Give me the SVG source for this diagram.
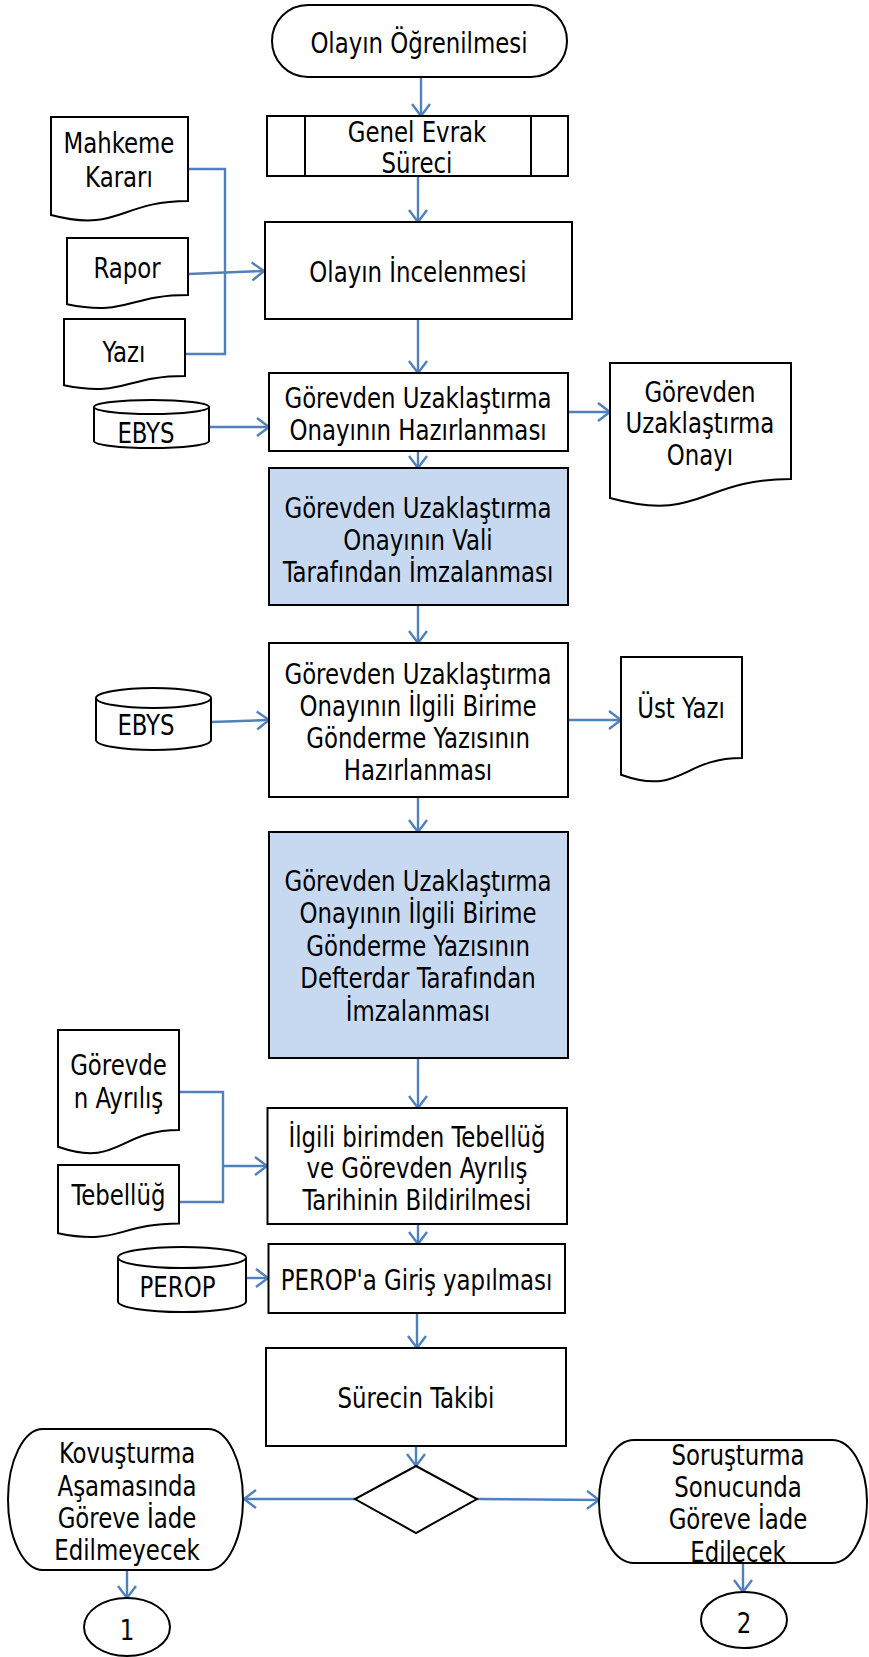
<svg xmlns="http://www.w3.org/2000/svg" width="869" height="1657" viewBox="0 0 869 1657">
<style>
.s{fill:#fff;stroke:#000;stroke-width:2}
.b{fill:#c6d9f1;stroke:#000;stroke-width:2}
.c{fill:none;stroke:#4f81bd;stroke-width:2.4}
.a{marker-end:url(#ah)}
text{font-family:"DejaVu Sans Condensed","DejaVu Sans",sans-serif;font-stretch:condensed;font-size:27.5px;fill:#000;text-anchor:middle}
</style>
<defs>
<marker id="ah" viewBox="0 0 14 20" refX="13" refY="10" markerWidth="14" markerHeight="20" markerUnits="userSpaceOnUse" orient="auto">
<path d="M1,1 L13,10 L1,19" fill="none" stroke="#4f81bd" stroke-width="2.4"/>
</marker>
</defs>

<g id="connectors">
<path class="c a" d="M421,77 V116"/>
<path class="c a" d="M418,176 V222"/>
<path class="c" d="M188,169 H225 V354 H185"/>
<path class="c a" d="M188,274 L264,271"/>
<path class="c a" d="M418,319 V373"/>
<path class="c a" d="M209,427 H269"/>
<path class="c a" d="M568,412 H610"/>
<path class="c a" d="M418,451 V468"/>
<path class="c a" d="M418,605 V643"/>
<path class="c a" d="M211,722 L269,720"/>
<path class="c a" d="M568,720 H621"/>
<path class="c a" d="M418,797 V832"/>
<path class="c a" d="M418,1058 V1108"/>
<path class="c" d="M179,1092 H223 V1202 H179"/>
<path class="c a" d="M223,1166 H267"/>
<path class="c a" d="M418,1224 V1244"/>
<path class="c a" d="M246,1278 H268"/>
<path class="c a" d="M417,1313 V1348"/>
<path class="c a" d="M416,1446 V1466"/>
<path class="c a" d="M355,1499 H244"/>
<path class="c a" d="M477,1499 L599,1500"/>
<path class="c a" d="M127,1570 V1598"/>
<path class="c a" d="M743,1563 V1592"/>
</g>

<g id="start">
<rect class="s" x="272" y="5" width="295" height="72" rx="36" ry="36"/>
<g transform="matrix(0.924 0 0 1 31.8 0)"><text x="419" y="53">Olayın Öğrenilmesi</text></g>
</g>

<g id="genel-evrak">
<rect class="s" x="267" y="116" width="301" height="60"/>
<path class="s" d="M305,116 V176 M531,116 V176"/>
<g transform="matrix(0.924 0 0 1 31.7 0)">
<text x="417" y="142">Genel Evrak</text>
<text x="417" y="173">Süreci</text>
</g>
</g>

<g id="olay-inceleme">
<rect class="s" x="265" y="222" width="307" height="97"/>
<g transform="matrix(0.924 0 0 1 31.8 0)"><text x="418" y="282">Olayın İncelenmesi</text></g>
</g>

<g id="doc-mahkeme">
<path class="s" d="M51,117 H188 V201 C119.5,201 119.5,233 51,215 Z"/>
<g transform="matrix(0.924 0 0 1 9.0 0)">
<text x="119" y="153">Mahkeme</text>
<text x="119" y="187">Kararı</text>
</g>
</g>

<g id="doc-rapor">
<path class="s" d="M67,238 H188 V295 C127.5,295 127.5,316.6 67,304.3 Z"/>
<g transform="matrix(0.924 0 0 1 9.7 0)"><text x="127" y="278">Rapor</text></g>
</g>

<g id="doc-yazi">
<path class="s" d="M64,319 H185 V376 C124.5,376 124.5,397.6 64,385.3 Z"/>
<g transform="matrix(0.924 0 0 1 9.4 0)"><text x="124" y="362">Yazı</text></g>
</g>

<g id="onay-hazirlama">
<rect class="s" x="269" y="373" width="299" height="78"/>
<g transform="matrix(0.924 0 0 1 31.8 0)">
<text x="418" y="408">Görevden Uzaklaştırma</text>
<text x="418" y="440">Onayının Hazırlanması</text>
</g>
</g>

<g id="ebys-1">
<path class="s" d="M94,407 A57.5,7 0 0 1 209,407 V441 A57.5,7 0 0 1 94,441 Z"/>
<path class="s" d="M94,407 A57.5,7 0 0 0 209,407"/>
<g transform="matrix(0.924 0 0 1 11.1 0)"><text x="146" y="443">EBYS</text></g>
</g>

<g id="doc-onay">
<path class="s" d="M610,363 H791 V479 C700.5,479 700.5,523 610,498 Z"/>
<g transform="matrix(0.924 0 0 1 53.2 0)">
<text x="700" y="402">Görevden</text>
<text x="700" y="433">Uzaklaştırma</text>
<text x="700" y="465">Onayı</text>
</g>
</g>

<g id="vali-imza">
<rect class="b" x="269" y="468" width="299" height="137"/>
<g transform="matrix(0.924 0 0 1 31.8 0)">
<text x="418" y="518">Görevden Uzaklaştırma</text>
<text x="418" y="550">Onayının Vali</text>
<text x="418" y="582">Tarafından İmzalanması</text>
</g>
</g>

<g id="yazi-hazirlama">
<rect class="s" x="269" y="643" width="299" height="154"/>
<g transform="matrix(0.924 0 0 1 31.8 0)">
<text x="418" y="684">Görevden Uzaklaştırma</text>
<text x="418" y="716">Onayının İlgili Birime</text>
<text x="418" y="748">Gönderme Yazısının</text>
<text x="418" y="780">Hazırlanması</text>
</g>
</g>

<g id="ebys-2">
<path class="s" d="M96,698 A57.5,10 0 0 1 211,698 V740 A57.5,10 0 0 1 96,740 Z"/>
<path class="s" d="M96,698 A57.5,10 0 0 0 211,698"/>
<g transform="matrix(0.924 0 0 1 11.1 0)"><text x="146" y="735">EBYS</text></g>
</g>

<g id="doc-ust-yazi">
<path class="s" d="M621,657 H742 V758 C681.5,758 681.5,796.5 621,774.7 Z"/>
<g transform="matrix(0.924 0 0 1 51.8 0)"><text x="681" y="718">Üst Yazı</text></g>
</g>

<g id="defterdar-imza">
<rect class="b" x="269" y="832" width="299" height="226"/>
<g transform="matrix(0.924 0 0 1 31.8 0)">
<text x="418" y="891">Görevden Uzaklaştırma</text>
<text x="418" y="923.5">Onayının İlgili Birime</text>
<text x="418" y="956">Gönderme Yazısının</text>
<text x="418" y="988.5">Defterdar Tarafından</text>
<text x="418" y="1021">İmzalanması</text>
</g>
</g>

<g id="doc-ayrilis">
<path class="s" d="M58,1030 H179 V1130 C118.5,1130 118.5,1168 58,1146.8 Z"/>
<g transform="matrix(0.924 0 0 1 9.0 0)">
<text x="118.5" y="1075">Görevde</text>
<text x="118.5" y="1108">n Ayrılış</text>
</g>
</g>

<g id="doc-tebellug">
<path class="s" d="M58,1165 H179 V1223.5 C118.5,1223.5 118.5,1245.8 58,1233.2 Z"/>
<g transform="matrix(0.924 0 0 1 9.0 0)"><text x="118.5" y="1205">Tebellüğ</text></g>
</g>

<g id="tebellug-bildirim">
<rect class="s" x="267.5" y="1108" width="299.5" height="116"/>
<g transform="matrix(0.924 0 0 1 31.7 0)">
<text x="417" y="1147">İlgili birimden Tebellüğ</text>
<text x="417" y="1178">ve Görevden Ayrılış</text>
<text x="417" y="1210">Tarihinin Bildirilmesi</text>
</g>
</g>

<g id="perop-db">
<path class="s" d="M118,1257.5 A64,10.5 0 0 1 246,1257.5 V1301.5 A64,10.5 0 0 1 118,1301.5 Z"/>
<path class="s" d="M118,1257.5 A64,10.5 0 0 0 246,1257.5"/>
<g transform="matrix(0.924 0 0 1 13.5 0)"><text x="177.5" y="1297">PEROP</text></g>
</g>

<g id="perop-giris">
<rect class="s" x="268.5" y="1244" width="296.5" height="69"/>
<g transform="matrix(0.924 0 0 1 31.7 0)"><text x="416.5" y="1290">PEROP'a Giriş yapılması</text></g>
</g>

<g id="surec-takip">
<rect class="s" x="266" y="1348" width="300" height="98"/>
<g transform="matrix(0.924 0 0 1 31.6 0)"><text x="416" y="1408">Sürecin Takibi</text></g>
</g>

<g id="karar">
<polygon class="s" points="416,1466 477,1499 416,1533 355,1499"/>
</g>

<g id="kovusturma">
<rect class="s" x="8" y="1429" width="235" height="141" rx="35" ry="70.5"/>
<g transform="matrix(0.924 0 0 1 9.7 0)">
<text x="127" y="1463">Kovuşturma</text>
<text x="127" y="1496">Aşamasında</text>
<text x="127" y="1528">Göreve İade</text>
<text x="127" y="1560">Edilmeyecek</text>
</g>
</g>

<g id="sorusturma">
<rect class="s" x="599" y="1440" width="268" height="123" rx="35" ry="61.5"/>
<g transform="matrix(0.924 0 0 1 56.1 0)">
<text x="738" y="1465">Soruşturma</text>
<text x="738" y="1497">Sonucunda</text>
<text x="738" y="1529">Göreve İade</text>
<text x="738" y="1562">Edilecek</text>
</g>
</g>

<g id="baglanti-1">
<ellipse class="s" cx="127" cy="1627" rx="43" ry="29"/>
<g transform="matrix(0.924 0 0 1 9.7 0)"><text x="127" y="1640">1</text></g>
</g>

<g id="baglanti-2">
<ellipse class="s" cx="744" cy="1620" rx="43" ry="28"/>
<g transform="matrix(0.924 0 0 1 56.5 0)"><text x="744" y="1633">2</text></g>
</g>
</svg>
